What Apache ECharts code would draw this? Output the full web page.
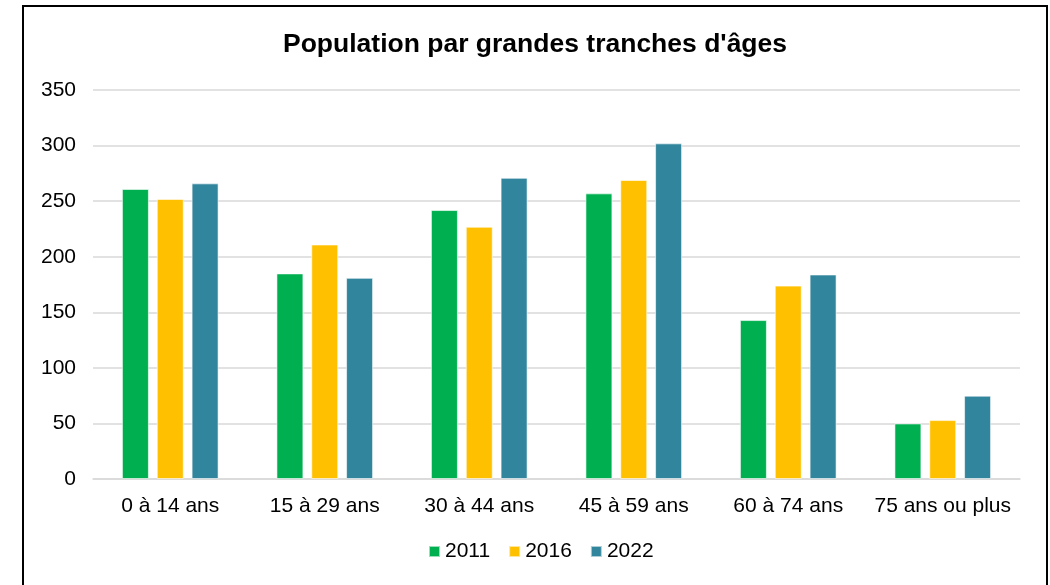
<!DOCTYPE html>
<html>
<head>
<meta charset="utf-8">
<script src="https://cdn.jsdelivr.net/npm/echarts@6/dist/echarts.min.js"></script>
<style>
  body { margin: 0; background: #fff; }
  #chart { width: 1050px; height: 585px; }
</style>
</head>
<body>
<div id="chart"></div>
<script>
var categories = ['0 à 14 ans', '15 à 29 ans', '30 à 44 ans', '45 à 59 ans', '60 à 74 ans', '75 ans ou plus'];
var years = ['2011', '2016', '2022'];
var values2011 = [261, 185, 242, 257, 143, 50];
var values2016 = [252, 211, 227, 269, 174, 53];
var values2022 = [266, 181, 271, 302, 184, 75];
var colors = ['#00B050', '#FFC000', '#31859C'];

var myChart = echarts.init(document.getElementById('chart'));

var font = 'Liberation Sans, Arial, sans-serif';

function barSeries(name, data, color) {
    return {
        name: name,
        type: 'bar',
        data: data,
        barWidth: 27,
        barGap: '29%',
        itemStyle: { color: color, borderColor: 'rgba(255,255,255,0.6)', borderWidth: 1 }
    };
}

var option = {
    animation: false,
    textStyle: { fontFamily: font },
    title: {
        text: "Population par grandes tranches d'âges",
        left: 278,
        top: 26,
        textStyle: { fontFamily: font, fontSize: 26.5, fontWeight: 'bold', color: '#000' }
    },
    legend: {
        bottom: 18,
        left: 423,
        itemWidth: 11,
        itemHeight: 11,
        itemGap: 18,
        icon: 'rect',
        textStyle: { fontFamily: font, fontSize: 21, color: '#000' },
        data: years
    },
    grid: { left: 93, right: 30, top: 90, bottom: 106, containLabel: false },
    xAxis: {
        type: 'category',
        data: categories,
        axisTick: { show: false },
        axisLine: { lineStyle: { color: '#d9d9d9', width: 1.5 } },
        axisLabel: { fontFamily: font, fontSize: 21, color: '#000', margin: 17, interval: 0 }
    },
    yAxis: {
        type: 'value',
        min: 0,
        max: 350,
        interval: 50,
        axisLine: { show: false },
        axisTick: { show: false },
        splitLine: { lineStyle: { color: '#d9d9d9', width: 1.5 } },
        axisLabel: { fontFamily: font, fontSize: 21, color: '#000', margin: 17 }
    },
    graphic: [{
        type: 'rect',
        shape: { x: 23, y: 6, width: 1024, height: 600 },
        style: { fill: 'none', stroke: '#000', lineWidth: 2 },
        silent: true
    }],
    series: [
        barSeries(years[0], values2011, colors[0]),
        barSeries(years[1], values2016, colors[1]),
        barSeries(years[2], values2022, colors[2])
    ]
};

myChart.setOption(option);
</script>
</body>
</html>
